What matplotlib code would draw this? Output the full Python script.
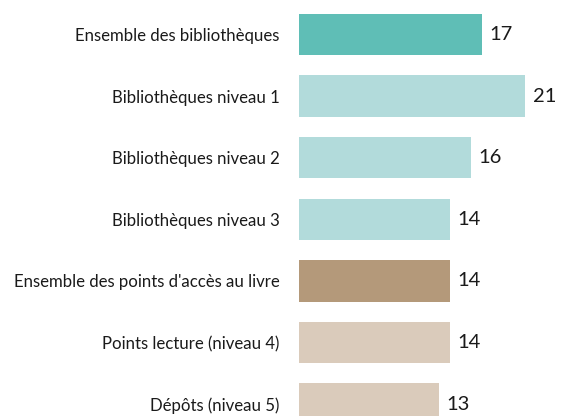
import matplotlib
matplotlib.use("Agg")
import matplotlib.pyplot as plt

categories = [
    "Ensemble des bibliothèques",
    "Bibliothèques niveau 1",
    "Bibliothèques niveau 2",
    "Bibliothèques niveau 3",
    "Ensemble des points d'accès au livre",
    "Points lecture (niveau 4)",
    "Dépôts (niveau 5)",
]
values = [17, 21, 16, 14, 14, 14, 13]
colors = ["#5FBEB6", "#B2DBDB", "#B2DBDB", "#B2DBDB", "#B4997A", "#DACBBB", "#DACBBB"]

plt.rcParams["font.family"] = ["Lato", "DejaVu Sans"]

W, H = 563, 416
fig = plt.figure(figsize=(W / 100, H / 100), dpi=100)
left_px = 299
ax = fig.add_axes([left_px / W, 0, 1 - left_px / W, 1])

pos = list(range(len(categories)))
ax.barh(pos, values, height=0.67, color=colors)

# 10.76 px per unit, row pitch 61.6 px, first row centre at 34.5 px from top
ax.set_xlim(0, (W - left_px) / 10.76)
ax.set_ylim((H - 34.5) / 61.6, -34.5 / 61.6)

for p, v in zip(pos, values):
    ax.annotate(str(v), (v, p), xytext=(5.5, 0), textcoords="offset points",
                ha="left", va="center", fontsize=14.5, color="#1a1a1a")

ax.set_yticks(pos)
ax.set_yticklabels(categories, fontsize=12.05, color="#1a1a1a")
ax.tick_params(axis="y", length=0, pad=14)
ax.set_xticks([])
for s in ax.spines.values():
    s.set_visible(False)

fig.savefig("out.png", dpi=100)
